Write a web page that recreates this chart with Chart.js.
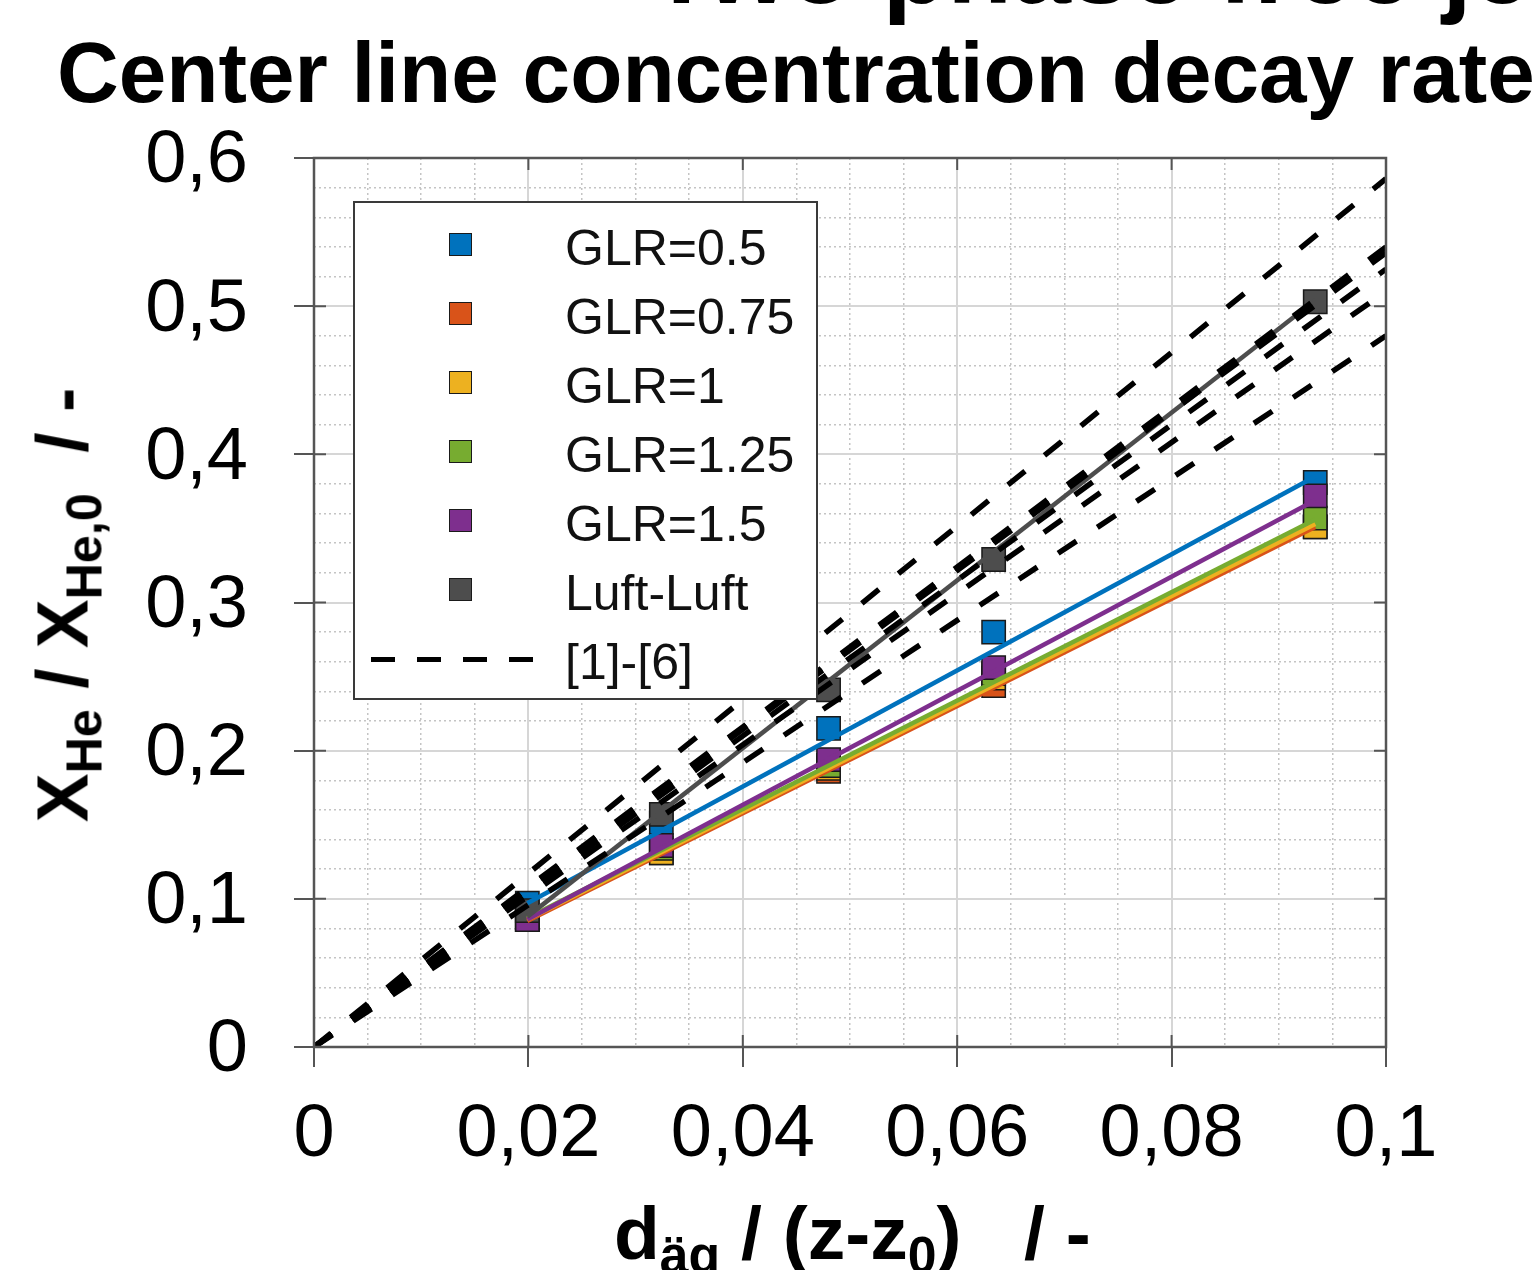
<!DOCTYPE html>
<html>
<head>
<meta charset="utf-8">
<script src="https://cdn.jsdelivr.net/npm/chart.js@4.4.1/dist/chart.umd.min.js"></script>
<style>
  html, body { margin: 0; padding: 0; background: #fff; }
  body { width: 1539px; height: 1270px; position: relative; overflow: hidden;
         font-family: "Liberation Sans", Arial, Helvetica, sans-serif; color: #000; }
  #wrap { position: absolute; left: 0; top: 0; width: 1539px; height: 1270px; }
  .title { position: absolute; font-weight: bold; white-space: nowrap; line-height: 1; }
  .axis-title { position: absolute; font-weight: bold; font-size: 73px; line-height: 73px; white-space: nowrap; }
  .axis-title sub { font-size: 0.69em; vertical-align: -0.27em; line-height: 0; }
  #ytitle { left: 62px; top: 605px; transform: translate(-50%, -50%) rotate(-90deg); }
  #xtitle { left: 614px; top: 1196px; font-size: 75px; line-height: 75px; }
  #legend { position: absolute; left: 353px; top: 201px; width: 465px; height: 499px; box-sizing: border-box;
            border: 2.5px solid #3a3a3a; background: #fff; }
  #legend .mk { position: absolute; width: 21px; height: 21px; border: 1.5px solid #1a1a1a; }
  #legend .txt { position: absolute; font-size: 50px; line-height: 50px; white-space: nowrap; color: #111; }
  #legend .dash { position: absolute; height: 5px; width: 162px;
                  background: repeating-linear-gradient(to right, #000 0 24px, transparent 24px 46px); }
</style>
</head>
<body>
<div class="title" style="left:649px; top:-87px; font-size:106px; line-height:106px;">Two phase free jet</div>
<div class="title" style="left:57px; top:30px; font-size:85.5px; line-height:85.5px;">Center line concentration decay rate</div>
<div id="wrap"><canvas id="chart"></canvas></div>
<div class="axis-title" id="ytitle">X<sub>He</sub> / X<sub>He,0</sub>&nbsp;&nbsp;/ -</div>
<div class="axis-title" id="xtitle">d<sub>äg</sub> / (z-z<sub>0</sub>)&nbsp;&nbsp;&nbsp;/ -</div>
<div id="legend"></div>
<script>
// measured positions d_aeq/(z-z0)
const xPositions = [0.0199, 0.0324, 0.0480, 0.0634, 0.0934];

const seriesNames = ['GLR=0.5', 'GLR=0.75', 'GLR=1', 'GLR=1.25', 'GLR=1.5', 'Luft-Luft'];
const refName = '[1]-[6]';

// X_He / X_He,0 per series
const glr050 = [0.097, 0.151, 0.215, 0.280, 0.381];
const glr075 = [0.086, 0.131, 0.186, 0.244, 0.351];
const glr100 = [0.086, 0.131, 0.188, 0.249, 0.351];
const glr125 = [0.087, 0.134, 0.190, 0.252, 0.357];
const glr150 = [0.086, 0.136, 0.194, 0.256, 0.372];
const luft   = [0.092, 0.157, 0.241, 0.329, 0.503];

// linear fits (end points)
const fitX      = [0.0199, 0.0934];
const fitGlr050 = [0.097, 0.385];
const fitGlr075 = [0.085, 0.351];
const fitGlr100 = [0.086, 0.353];
const fitGlr125 = [0.087, 0.356];
const fitGlr150 = [0.086, 0.369];
const fitLuft   = [0.088, 0.504];

// literature correlations [1]-[6], from origin to x = 0.1
const refX = [0, 0.1];
const ref1 = [0, 0.586];
const ref2 = [0, 0.540];
const ref3 = [0, 0.536];
const ref4 = [0, 0.525];
const ref5 = [0, 0.510];
const ref6 = [0, 0.480];

const colors = ['#0072BD', '#D95319', '#EDB120', '#77AC30', '#7E2F8E', '#4D4D4D'];

const measured = [glr050, glr075, glr100, glr125, glr150, luft];
const fits = [fitGlr050, fitGlr075, fitGlr100, fitGlr125, fitGlr150, fitLuft];
const refs = [ref1, ref2, ref3, ref4, ref5, ref6];

const pts = (xs, ys) => xs.map((x, i) => ({ x: x, y: ys[i] }));
const isMajor = (v, step) => Math.abs(v / step - Math.round(v / step)) < 1e-6;
const fmt = v => String(Math.round(v * 1000) / 1000).replace('.', ',');

const datasets = [];
// markers (bottom layer, later series on top)
measured.forEach((ys, i) => {
    datasets.push({
        label: seriesNames[i],
        data: pts(xPositions, ys),
        showLine: false,
        pointStyle: 'rect',
        pointRadius: 16.5,
        backgroundColor: colors[i],
        borderColor: '#1a1a1a',
        borderWidth: 1.5,
        order: 30 - i
    });
});
// fit lines
fits.forEach((ys, i) => {
    datasets.push({
        label: seriesNames[i] + ' fit',
        data: pts(fitX, ys),
        borderColor: colors[i],
        borderWidth: 4.5,
        pointRadius: 0,
        order: 20 - i
    });
});
// dashed reference lines (top)
refs.forEach((ys, i) => {
    datasets.push({
        label: refName,
        data: pts(refX, ys),
        borderColor: '#000',
        borderWidth: 5.5,
        borderDash: [22, 25],
        borderCapStyle: 'butt',
        pointRadius: 0,
        order: 5 - i * 0.1
    });
});

const frame = {
    id: 'frame',
    afterDatasetsDraw(chart) {
        const { ctx, chartArea: a, scales: { x, y } } = chart;
        ctx.save();
        ctx.strokeStyle = '#555';
        ctx.lineWidth = 2;
        ctx.beginPath();
        x.ticks.forEach(t => {
            if (!isMajor(t.value, 0.02)) return;
            const px = x.getPixelForValue(t.value);
            ctx.moveTo(px, a.bottom); ctx.lineTo(px, a.bottom - 12);
            ctx.moveTo(px, a.top); ctx.lineTo(px, a.top + 12);
        });
        y.ticks.forEach(t => {
            if (!isMajor(t.value, 0.1)) return;
            const py = y.getPixelForValue(t.value);
            ctx.moveTo(a.left, py); ctx.lineTo(a.left + 12, py);
            ctx.moveTo(a.right, py); ctx.lineTo(a.right - 12, py);
        });
        ctx.stroke();
        ctx.lineWidth = 2.5;
        ctx.strokeStyle = '#555';
        ctx.strokeRect(a.left, a.top, a.right - a.left, a.bottom - a.top);
        ctx.restore();
    }
};

const tickFont = { family: '"Liberation Sans", Arial, sans-serif', size: 74 };

new Chart(document.getElementById('chart'), {
    type: 'line',
    data: { datasets: datasets },
    plugins: [frame],
    options: {
        responsive: true,
        maintainAspectRatio: false,
        animation: false,
        layout: { padding: { top: 158, right: 153, left: 0, bottom: 0 } },
        plugins: { legend: { display: false }, tooltip: { enabled: false } },
        scales: {
            x: {
                type: 'linear',
                min: 0, max: 0.1,
                afterFit: s => { s.height = 223; },
                border: { display: false, dash: c => (c.tick && isMajor(c.tick.value, 0.02)) ? [] : [2, 3] },
                grid: {
                    color: c => (c.tick && isMajor(c.tick.value, 0.02)) ? '#d6d6d6' : '#c4c4c4',
                    lineWidth: c => (c.tick && isMajor(c.tick.value, 0.02)) ? 2 : 1.5,
                    tickColor: c => (c.tick && isMajor(c.tick.value, 0.02)) ? '#555' : 'rgba(0,0,0,0)',
                    tickLength: 20,
                    tickWidth: 2
                },
                ticks: {
                    stepSize: 0.005,
                    autoSkip: false,
                    maxRotation: 0,
                    padding: 24,
                    color: '#000',
                    font: tickFont,
                    callback: v => isMajor(v, 0.02) ? fmt(v) : ''
                }
            },
            y: {
                type: 'linear',
                min: 0, max: 0.6,
                afterFit: s => { s.width = 314; },
                border: { display: false, dash: c => (c.tick && isMajor(c.tick.value, 0.1)) ? [] : [2, 3] },
                grid: {
                    color: c => (c.tick && isMajor(c.tick.value, 0.1)) ? '#d6d6d6' : '#c4c4c4',
                    lineWidth: c => (c.tick && isMajor(c.tick.value, 0.1)) ? 2 : 1.5,
                    tickColor: c => (c.tick && isMajor(c.tick.value, 0.1)) ? '#555' : 'rgba(0,0,0,0)',
                    tickLength: 20,
                    tickWidth: 2
                },
                ticks: {
                    stepSize: 0.02,
                    autoSkip: false,
                    padding: 46,
                    labelOffset: 4,
                    color: '#000',
                    font: tickFont,
                    callback: v => isMajor(v, 0.1) ? fmt(v) : ''
                }
            }
        }
    }
});

// legend box inside the axes
const legend = document.getElementById('legend');
seriesNames.forEach((name, i) => {
    const cy = 42 + 69 * i;
    const mk = document.createElement('div');
    mk.className = 'mk';
    mk.style.left = (106 - 12) + 'px';
    mk.style.top = (cy - 12) + 'px';
    mk.style.background = colors[i];
    legend.appendChild(mk);
    const tx = document.createElement('div');
    tx.className = 'txt';
    tx.style.left = '210px';
    tx.style.top = (cy + 3 - 25) + 'px';
    tx.textContent = name;
    legend.appendChild(tx);
});
const dashRow = 42 + 69 * 6;
const ds = document.createElement('div');
ds.className = 'dash';
ds.style.left = '16px';
ds.style.top = (dashRow - 2.5) + 'px';
legend.appendChild(ds);
const dt = document.createElement('div');
dt.className = 'txt';
dt.style.left = '210px';
dt.style.top = (dashRow + 3 - 25) + 'px';
dt.textContent = refName;
legend.appendChild(dt);
</script>
</body>
</html>
